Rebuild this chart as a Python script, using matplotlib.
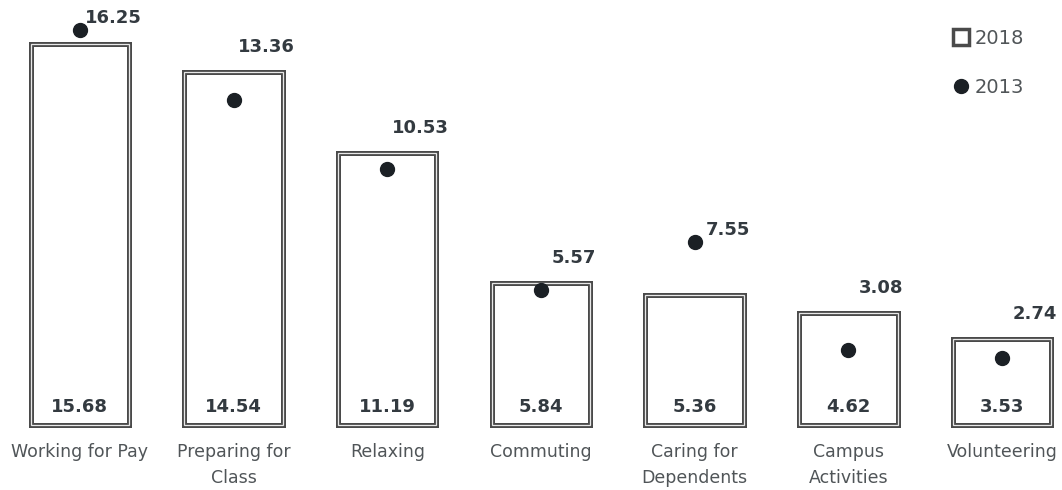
import matplotlib.pyplot as plt
from matplotlib.lines import Line2D

categories = ["Working for Pay", "Preparing for\nClass", "Relaxing", "Commuting",
              "Caring for\nDependents", "Campus\nActivities", "Volunteering"]
hours_2018 = [15.68, 14.54, 11.19, 5.84, 5.36, 4.62, 3.53]
hours_2013 = [16.25, 13.36, 10.53, 5.57, 7.55, 3.08, 2.74]

plt.rcParams['font.family'] = ['DejaVu Sans']
txt_dark = '#333a40'
txt_gray = '#505558'
edge = '#4a4a4a'

fig = plt.figure(figsize=(10.62, 4.9), dpi=100)
ax = fig.add_axes([0, 0.1327, 1, 0.8673])
x = list(range(len(categories)))

# double-line bar outline: thick dark edge with a thin light line on top
ax.bar(x, hours_2018, width=0.64, facecolor='white', edgecolor=edge, linewidth=3.6,
       zorder=2, clip_on=False)
ax.bar(x, hours_2018, width=0.64, facecolor='none', edgecolor='#e8e8e8', linewidth=0.9,
       zorder=3, clip_on=False)
ax.plot(x, hours_2013, 'o', color='#1b2025', markersize=10, zorder=4)

for i in x:
    ax.text(i, 0.72, f"{hours_2018[i]:.2f}", ha='center', va='center',
            fontsize=13, fontweight='bold', color=txt_dark, zorder=5)
    if hours_2013[i] > hours_2018[i]:
        top, off = hours_2013[i], 3
    else:
        top, off = hours_2018[i], 16
    ax.annotate(f"{hours_2013[i]:.2f}", xy=(i, top), xytext=(33, off),
                textcoords='offset pixels',
                ha='center', va='bottom', fontsize=13, fontweight='bold', color=txt_dark)

ax.set_xlim(-0.52, 6.39)
ax.set_ylim(0, 17.49)
ax.set_xticks(x)
ax.set_xticklabels(categories, fontsize=12.5, color=txt_gray, linespacing=1.55)
ax.tick_params(axis='x', length=0, pad=13)
ax.set_yticks([])
for s in ax.spines.values():
    s.set_visible(False)

handles = [Line2D([], [], marker='s', linestyle='none', markersize=11,
                  markerfacecolor='white', markeredgecolor=edge, markeredgewidth=2.5),
           Line2D([], [], marker='o', linestyle='none', markersize=10, color='#1b2025')]
leg = ax.legend(handles, ['2018', '2013'], loc='upper right', bbox_to_anchor=(0.975, 0.96),
                frameon=False, fontsize=14, labelspacing=1.55, handlelength=0.8,
                handletextpad=0.3, borderaxespad=0.2)
for t in leg.get_texts():
    t.set_color(txt_gray)

fig.savefig('out.png', dpi=100)
